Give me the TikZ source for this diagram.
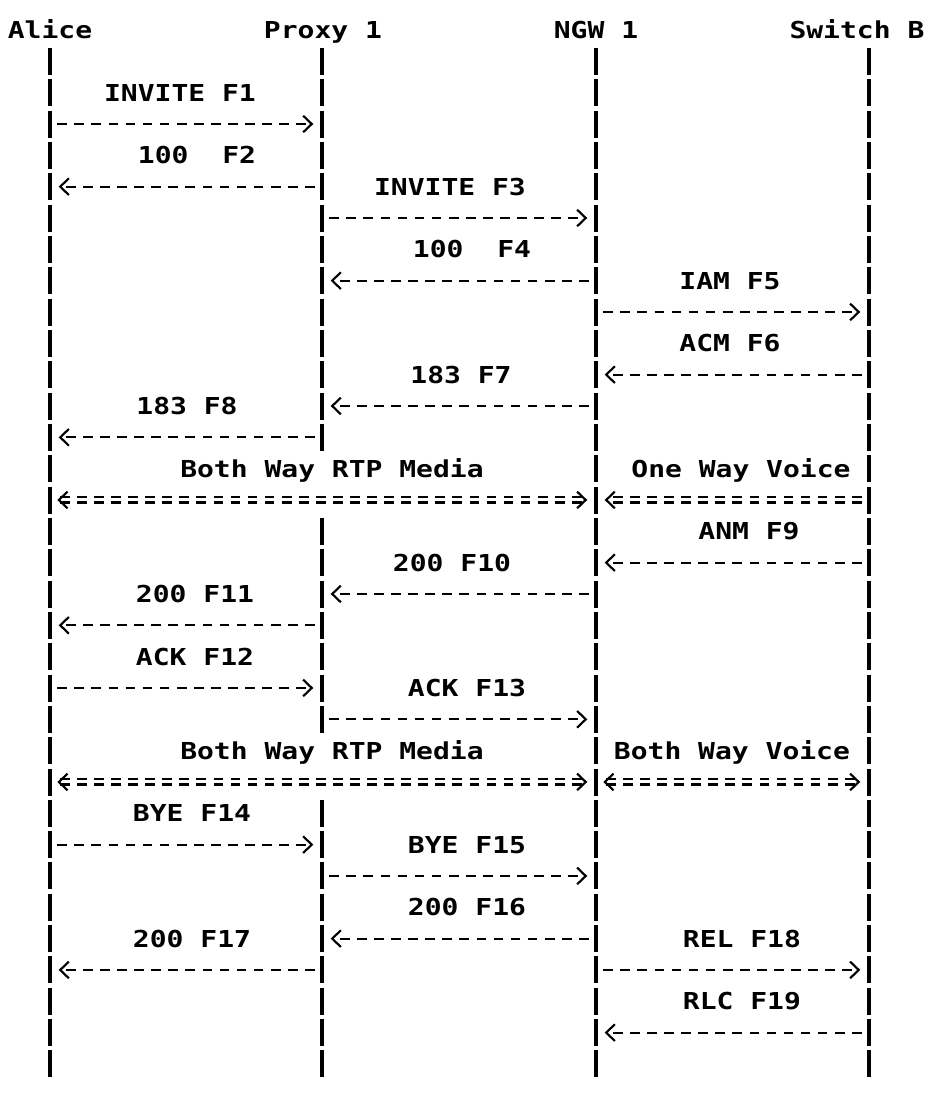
\documentclass[tikz,border=0pt]{standalone}
\usepackage{fontspec}
\setmonofont{DejaVu Sans Mono}[FakeStretch=1.2]
\usetikzlibrary{arrows.meta}

\begin{document}
\begin{tikzpicture}[x=0.75pt, y=-23.5pt,
	every node/.style={font=\ttfamily\bfseries\fontsize{17.5pt}{20pt}\selectfont, inner sep=0pt, text height=12.6pt, text depth=0pt},
	>={Straight Barb[length=6.5pt, width=12.5pt]},
	lane/.style={line width=2.4pt, dash pattern=on 20.25pt off 3.25pt, shorten <=-10.1pt, shorten >=-12pt},
	msg/.style={line width=1.6pt, dash pattern=on 7.3pt off 5.5pt, ->, shorten <=5.5pt, shorten >=6.5pt},
	media/.style={msg, double, double distance=2.25pt}]
	\path[fill=white] (0,-0.9575) rectangle (926,34.055);
	% one point per text row on every lifeline
	\foreach \col/\xx in {a/50, p/322, n/596, s/869}
		\foreach \r in {0,...,33}
			\coordinate (\col\r) at (\xx,\r);
	\node (alice) at (50,0) {Alice};
	\node (proxy) at (323,0) {Proxy 1};
	\node (ngw) at (596,0) {NGW 1};
	\node (switch) at (857,0) {Switch B};
	\draw[lane] (a1) -- (a33);
	\draw[lane] (p1) -- (p13);
	\draw[lane] (p16) -- (p22);
	\draw[lane] (p25) -- (p33);
	\draw[lane] (n1) -- (n33);
	\draw[lane] (s1) -- (s33);
	% call setup
	\node (f1) at (180,2) {INVITE F1};
	\draw[msg] (a3) -- (p3);
	\node (f2) at (197,4) {100\ \ F2};
	\draw[msg] (p5) -- (a5);
	\node (f3) at (450,5) {INVITE F3};
	\draw[msg] (p6) -- (n6);
	\node (f4) at (472,7) {100\ \ F4};
	\draw[msg] (n8) -- (p8);
	\node (f5) at (730,8) {IAM F5};
	\draw[msg] (n9) -- (s9);
	\node (f6) at (730,10) {ACM F6};
	\draw[msg] (s11) -- (n11);
	\node (f7) at (461,11) {183 F7};
	\draw[msg] (n12) -- (p12);
	\node (f8) at (187,12) {183 F8};
	\draw[msg] (p13) -- (a13);
	\node (rtp1) at (332,14) {Both Way RTP Media};
	\node (voice1) at (741,14) {One Way Voice};
	\draw[media, <->] (a15) -- (n15);
	\draw[media] (s15) -- (n15);
	% answer
	\node (f9) at (749,16) {ANM F9};
	\draw[msg] (s17) -- (n17);
	\node (f10) at (452,17) {200 F10};
	\draw[msg] (n18) -- (p18);
	\node (f11) at (195,18) {200 F11};
	\draw[msg] (p19) -- (a19);
	\node (f12) at (195,20) {ACK F12};
	\draw[msg] (a21) -- (p21);
	\node (f13) at (467,21) {ACK F13};
	\draw[msg] (p22) -- (n22);
	\node (rtp2) at (332,23) {Both Way RTP Media};
	\node (voice2) at (732,23) {Both Way Voice};
	\draw[media, <->] (a24) -- (n24);
	\draw[media, <->] (n24) -- (s24);
	% release
	\node (f14) at (192,25) {BYE F14};
	\draw[msg] (a26) -- (p26);
	\node (f15) at (467,26) {BYE F15};
	\draw[msg] (p27) -- (n27);
	\node (f16) at (467,28) {200 F16};
	\draw[msg] (n29) -- (p29);
	\node (f17) at (192,29) {200 F17};
	\draw[msg] (p30) -- (a30);
	\node (f18) at (742,29) {REL F18};
	\draw[msg] (n30) -- (s30);
	\node (f19) at (742,31) {RLC F19};
	\draw[msg] (s32) -- (n32);
\end{tikzpicture}
\end{document}
